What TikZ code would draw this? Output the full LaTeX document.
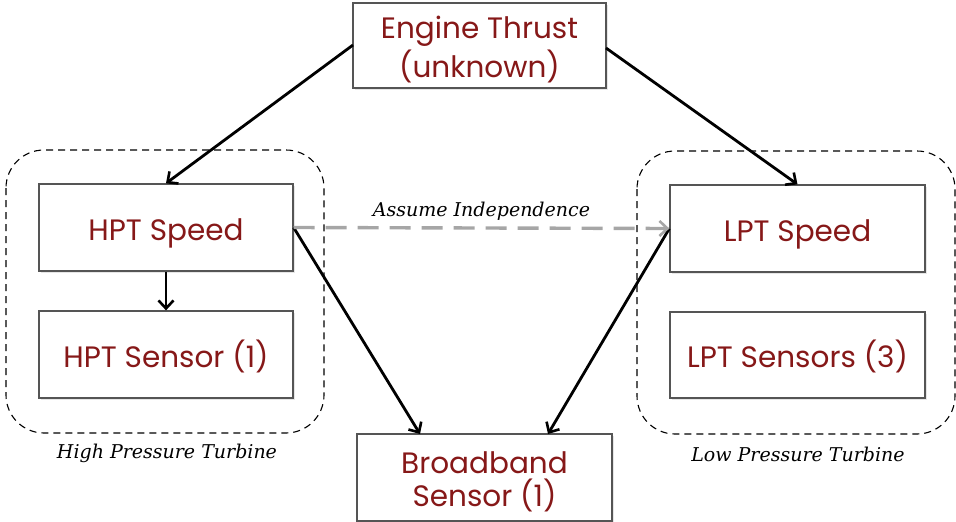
\documentclass[tikz,border=0pt]{standalone}
\usepackage{fontspec}
\setsansfont{Poppins}
\newfontfamily\labelfont{DejaVu Serif}
\usetikzlibrary{arrows.meta,shadows}
\definecolor{txtred}{HTML}{861818}
\definecolor{boxline}{HTML}{555555}
\definecolor{indep}{HTML}{A6A6A6}
\tikzset{
  x=1pt,y=-1pt,
  block/.style={draw=boxline,line width=1.3pt,fill=white,minimum width=254pt,minimum height=87pt,
    inner sep=0pt,align=center,text=txtred,font=\sffamily\fontsize{29.5}{35}\selectfont,
    text height=30pt,text depth=5pt,
    drop shadow={opacity=0.2,shadow xshift=1.5pt,shadow yshift=-2pt}},
  group/.style={draw=black,line width=1.1pt,rounded corners=38pt,dash pattern=on 7pt off 5pt},
  grouplabel/.style={font=\labelfont\itshape\fontsize{19}{21}\selectfont},
  link/.style={-{Straight Barb[length=8pt,width=15pt,line width=2.6pt]},line width=2.8pt,black},
  indeplink/.style={-{Straight Barb[length=8pt,width=15pt,line width=2.6pt]},line width=3.4pt,indep,dash pattern=on 21pt off 11pt},
}
\begin{document}
\begin{tikzpicture}
\useasboundingbox (0,0) rectangle (956,522);
\draw[group] (6,150) rectangle (324,433);
\draw[group] (637,151) rectangle (955,434);
\node[block,minimum width=253pt,minimum height=85pt,text height=68pt,text depth=4.4pt] (eng) at (479.5,45.5) {Engine Thrust\\[2pt](unknown)};
\node[block] (hs) at (166,227.5) {HPT Speed};
\node[block] (hsen) at (166,354.5) {HPT Sensor (1)};
\node[block,minimum width=255pt] (ls) at (797.5,228.5) {LPT Speed};
\node[block,minimum width=255pt,minimum height=86pt] (lsen) at (797.5,355) {LPT Sensors (3)};
\node[block,minimum width=255pt,text height=62pt,text depth=5pt] (bb) at (484.5,477.5) {Broadband\\[-2pt]Sensor (1)};
\node[grouplabel] (hl) at (167,453) {High Pressure Turbine};
\node[grouplabel] (ll) at (798,454) {Low Pressure Turbine};
\coordinate (engL) at (353,45);
\coordinate (engR) at (606,48);
\draw[link] (engL) -- (hs.north);
\draw[link] (engR) -- (ls.north);
\draw[link] (hs.south) -- (hsen.north);
\coordinate (bbL) at (420,434);
\coordinate (bbR) at (548,434);
\draw[link] (hs.east) -- (bbL);
\draw[link] (ls.west) -- (bbR);
\draw[indeplink] (hs.east) -- node[above=3pt,text=black,grouplabel] (ai) {Assume Independence} (ls.west);
\end{tikzpicture}
\end{document}
